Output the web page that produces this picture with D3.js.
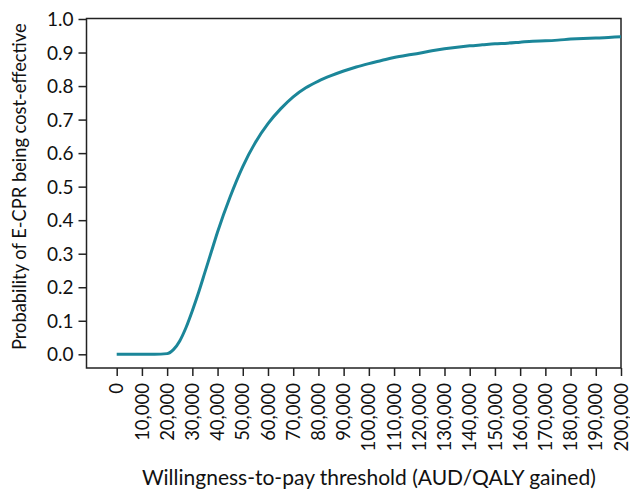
<!doctype html>
<html>
<head>
    <style>
        body { margin: 0; background: #fff; }
        text { font-family: Lato, "Open Sans", sans-serif; fill: #111; }
        .curve { fill: none; stroke: #1b8699; stroke-width: 3; }
    </style>
    <script src="https://d3js.org/d3.v7.min.js"></script>
</head>
<body>
<svg width="630" height="490"></svg>
<script>
    // willingness-to-pay threshold (AUD/QALY gained)
    var wtp = [0, 5000, 10000, 15000, 20000, 22500, 25000, 27500, 30000, 32500, 35000, 37500,
               40000, 45000, 50000, 55000, 60000, 65000, 70000, 75000, 80000, 85000, 90000,
               95000, 100000, 105000, 110000, 115000, 120000, 125000, 130000, 135000, 140000,
               145000, 150000, 155000, 160000, 165000, 170000, 175000, 180000, 185000, 190000,
               195000, 200000];
    // probability of E-CPR being cost-effective
    var prob = [0, 0, 0, 0, 0.002, 0.014, 0.04, 0.08, 0.13, 0.185, 0.245, 0.305,
                0.365, 0.47, 0.56, 0.632, 0.688, 0.732, 0.768, 0.795, 0.815, 0.831, 0.845,
                0.857, 0.867, 0.876, 0.885, 0.892, 0.898, 0.905, 0.911, 0.916, 0.92,
                0.923, 0.926, 0.928, 0.931, 0.934, 0.935, 0.937, 0.94, 0.942, 0.943,
                0.945, 0.947];
    var xTicks = d3.range(0, 200001, 10000);
    var yTicks = d3.range(0, 11).map(function(i) { return i / 10; });

    var svg = d3.select("svg");
    var box = { left: 86.5, right: 621, top: 18.5, bottom: 368 };

    var x = d3.scaleLinear().domain([0, 200000]).range([116.7, 621]);
    var y = d3.scaleLinear().domain([0, 1]).range([354.3, 19]);

    // y axis
    var yAxis = svg.append("g")
        .attr("transform", "translate(" + box.left + ",0)")
        .call(d3.axisLeft(y).tickValues(yTicks).tickSize(8).tickPadding(5)
            .tickFormat(d3.format(".1f")));
    yAxis.select(".domain").remove();
    yAxis.selectAll("text").style("font-size", "19px").attr("dy", "0.35em");

    // x axis
    var xAxis = svg.append("g")
        .attr("transform", "translate(0," + box.bottom + ")")
        .call(d3.axisBottom(x).tickValues(xTicks).tickSize(8)
            .tickFormat(d3.format(",")));
    xAxis.select(".domain").remove();
    xAxis.selectAll("text")
        .style("font-size", "18.5px")
        .attr("text-anchor", "end")
        .attr("transform", "rotate(-90)")
        .attr("x", -15)
        .attr("y", 0)
        .attr("dy", "0.33em");

    svg.selectAll(".tick line").attr("stroke", "#222").attr("stroke-width", 1.5);

    // frame
    svg.append("rect")
        .attr("x", box.left)
        .attr("y", box.top)
        .attr("width", box.right - box.left)
        .attr("height", box.bottom - box.top)
        .attr("fill", "none")
        .attr("stroke", "#222")
        .attr("stroke-width", 1.5);

    // curve
    var pts = wtp.map(function(d, i) { return [d, prob[i]]; });
    svg.append("path")
        .datum(pts)
        .attr("class", "curve")
        .attr("d", d3.line()
            .x(function(d) { return x(d[0]); })
            .y(function(d) { return y(d[1]); })
            .curve(d3.curveMonotoneX));

    // axis titles
    svg.append("text")
        .attr("x", (x.range()[0] + x.range()[1]) / 2)
        .attr("y", 485)
        .attr("text-anchor", "middle")
        .style("font-size", "21px")
        .text("Willingness-to-pay threshold (AUD/QALY gained)");

    svg.append("text")
        .attr("transform", "translate(26," + (y.range()[0] + y.range()[1]) / 2 + ") rotate(-90)")
        .attr("text-anchor", "middle")
        .style("font-size", "18.3px")
        .text("Probability of E-CPR being cost-effective");
</script>
</body>
</html>
